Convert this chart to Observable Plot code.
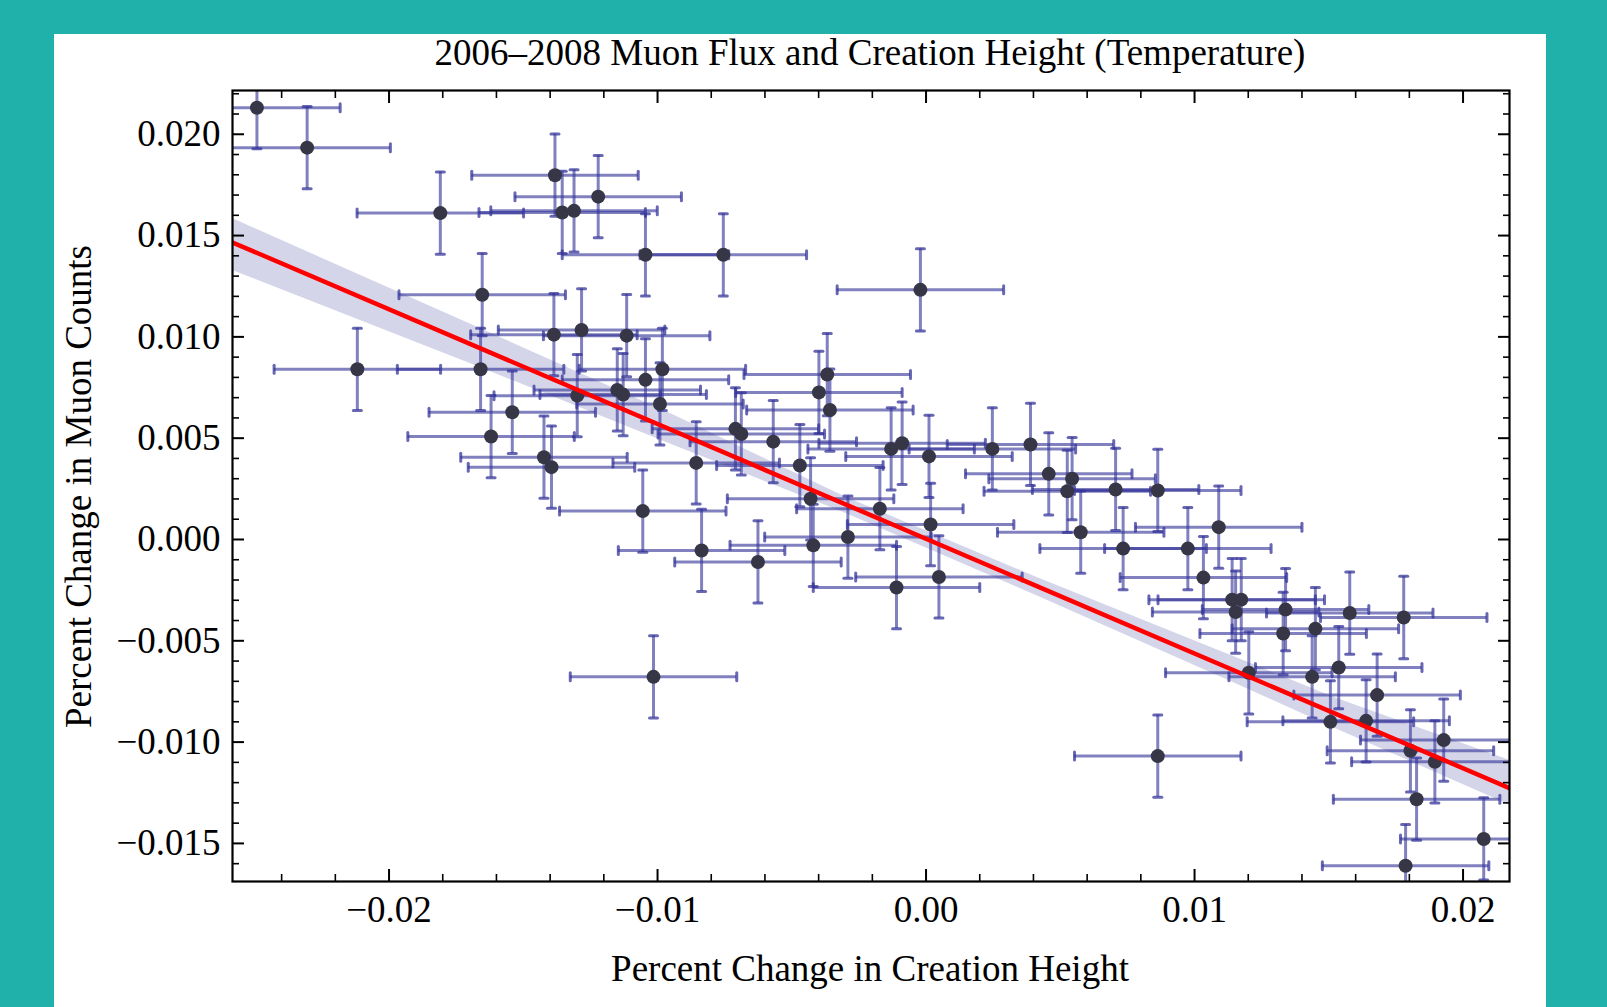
<!DOCTYPE html>
<html>
<head>
<meta charset="utf-8">
<script src="https://cdn.jsdelivr.net/npm/d3@7"></script>
<script src="https://cdn.jsdelivr.net/npm/@observablehq/plot@0.6"></script>
<style>
html, body { margin: 0; padding: 0; }
body { width: 1607px; height: 1007px; background: #20b2aa; position: relative; overflow: hidden;
  font-family: "Liberation Serif", "Times New Roman", serif; color: #000; }
#panel { position: absolute; left: 54px; top: 34px; width: 1492px; height: 973px; background: #fff; }
#title { position: absolute; left: 370px; width: 1000px; top: 34px; text-align: center; font-size: 37px; line-height: 37px; }
#chart { position: absolute; left: 0; top: 70px; }
#xlabel { position: absolute; left: 370px; width: 1000px; top: 950px; text-align: center; font-size: 37px; line-height: 37px; }
#ylabel { position: absolute; left: -272px; top: 468px; width: 700px; height: 37px; text-align: center; font-size: 37px; line-height: 37px; transform: rotate(-90deg); }
</style>
</head>
<body>
<div id="panel"></div>
<div id="title">2006–2008 Muon Flux and Creation Height (Temperature)</div>
<div id="chart"></div>
<div id="xlabel">Percent Change in Creation Height</div>
<div id="ylabel">Percent Change in Muon Counts</div>
<script>
// Measured points (percent change in creation height, percent change in muon counts)
const xValues = [-0.02492, -0.02305, -0.01809, -0.01382, -0.01355, -0.01311, -0.01221, -0.01045, -0.00755, -0.00021,
  -0.01653, -0.02118, -0.01659, -0.01386, -0.01283, -0.01115, -0.00982, -0.01045, -0.01150, -0.01128,
  -0.00991, -0.01299, -0.01541, -0.01620, -0.01423, -0.01395, -0.01055, -0.01015, -0.00368, -0.00399,
  -0.00358, -0.00710, -0.00688, -0.00569, -0.00856, -0.00470, -0.00430, -0.00836, -0.00626, -0.00420,
  -0.00291, -0.00172, -0.00130, -0.00089, 0.00011, 0.00017, -0.00110, 0.00048, 0.00247, 0.00389,
  0.00457, 0.00544, 0.00526, 0.00706, 0.00863, 0.00576, 0.00734, 0.01090, 0.00975, 0.01033,
  0.01140, 0.01174, 0.01153, 0.01339, 0.01330, 0.01450, 0.01578, 0.01779, 0.01202, 0.01537,
  0.01438, 0.01680, 0.01506, 0.01639, 0.01928, 0.01804, 0.01895, 0.01827, 0.02077, 0.01786, 0.00863];
const yValues = [0.02131, 0.01934, 0.01611, 0.01798, 0.01614, 0.01622, 0.01692, 0.01405, 0.01405, 0.01232,
  0.01208, 0.00840, 0.00840, 0.01011, 0.01034, 0.01006, 0.00840, 0.00788, 0.00738, 0.00715,
  0.00669, 0.00710, 0.00628, 0.00508, 0.00406, 0.00357, 0.00140, -0.00678, 0.00814, 0.00726,
  0.00639, 0.00546, 0.00521, 0.00483, 0.00378, 0.00365, 0.00201, -0.00054, -0.00111, -0.00029,
  0.00012, 0.00152, 0.00447, 0.00475, 0.00410, 0.00074, -0.00237, -0.00185, 0.00447, 0.00469,
  0.00324, 0.00300, 0.00238, 0.00247, 0.00242, 0.00036, -0.00045, 0.00061, -0.00045, -0.00188,
  -0.00297, -0.00297, -0.00358, -0.00346, -0.00464, -0.00440, -0.00363, -0.00385, -0.00658, -0.00632,
  -0.00678, -0.00768, -0.00900, -0.00895, -0.00990, -0.01043, -0.01097, -0.01282, -0.01478, -0.01610, -0.01069];
const xErr = 0.0031;
const yErr = 0.00203;

// Fit line and its band
const fitX = [-0.02583, 0.02173];
const fitY = [0.01466, -0.01227];
const bandX  = [-0.02583, -0.0166, -0.0095, -0.003, 0.004, 0.0115, 0.0152, 0.02173];
const bandHi = [0.01584, 0.01041, 0.0062, 0.0021, -0.0018, -0.0058, -0.0078, -0.0109];
const bandLo = [0.01328, 0.00849, 0.0047, 0.0013, -0.0027, -0.0071, -0.0093, -0.0131];

// Axes
const xDomain = [-0.02583, 0.02173];
const yDomain = [-0.01688, 0.02216];
const xMajor = [-0.02, -0.01, 0, 0.01, 0.02];
const xMinor = [-0.024, -0.022, -0.018, -0.016, -0.014, -0.012, -0.008, -0.006, -0.004, -0.002,
  0.002, 0.004, 0.006, 0.008, 0.012, 0.014, 0.016, 0.018];
const yMajor = [-0.015, -0.010, -0.005, 0, 0.005, 0.010, 0.015, 0.020];
const yMinor = [-0.016, -0.014, -0.013, -0.012, -0.011, -0.009, -0.008, -0.007, -0.006, -0.004, -0.003, -0.002, -0.001,
  0.001, 0.002, 0.003, 0.004, 0.006, 0.007, 0.008, 0.009, 0.011, 0.012, 0.013, 0.014, 0.016, 0.017, 0.018, 0.019, 0.021, 0.022];

const pts = xValues.map((x, i) => ({x, y: yValues[i]}));
const fit = fitX.map((x, i) => ({x, y: fitY[i]}));
const band = bandX.map((x, i) => ({x, lo: bandLo[i], hi: bandHi[i]}));

const barColor = "#34349a";
const capShape = {draw(context, l) { context.moveTo(0, -l / 2); context.lineTo(0, l / 2); }};
const barStyle = {stroke: barColor, strokeOpacity: 0.62, strokeWidth: 3, clip: true};
const capStyle = {length: 8, anchor: "start", shape: capShape, stroke: barColor, strokeOpacity: 0.75, strokeWidth: 3, clip: true};
const blank = () => "";

const chart = Plot.plot({
  width: 1607,
  height: 937,
  marginLeft: 232,
  marginRight: 98,
  marginTop: 20,
  marginBottom: 126,
  x: {domain: xDomain},
  y: {domain: yDomain},
  style: {background: "transparent", fontFamily: "'Liberation Serif', 'Times New Roman', serif", fontSize: "37px", color: "#000"},
  marks: [
    Plot.areaY(band, {x: "x", y1: "lo", y2: "hi", fill: "#d5d5ea", clip: true}),
    Plot.ruleY(pts, {y: "y", x1: d => d.x - xErr, x2: d => d.x + xErr, ...barStyle}),
    Plot.ruleX(pts, {x: "x", y1: d => d.y - yErr, y2: d => d.y + yErr, ...barStyle}),
    Plot.vector(pts, {x: d => d.x - xErr, y: "y", rotate: 0, ...capStyle}),
    Plot.vector(pts, {x: d => d.x + xErr, y: "y", rotate: 0, ...capStyle}),
    Plot.vector(pts, {x: "x", y: d => d.y - yErr, rotate: 90, ...capStyle}),
    Plot.vector(pts, {x: "x", y: d => d.y + yErr, rotate: 90, ...capStyle}),
    Plot.dot(pts, {x: "x", y: "y", r: 7, fill: "#363646", clip: true}),
    Plot.line(fit, {x: "x", y: "y", stroke: "#ff0000", strokeWidth: 4.5, clip: true}),
    Plot.axisX({anchor: "bottom", ticks: xMajor, tickSize: -12, tickPadding: 26, tickFormat: d3.format(".2f"), strokeWidth: 2, label: null}),
    Plot.axisX({anchor: "bottom", ticks: xMinor, tickSize: -7, tickFormat: blank, strokeWidth: 1.6, label: null}),
    Plot.axisX({anchor: "top", ticks: xMajor, tickSize: -12, tickFormat: blank, strokeWidth: 2, label: null}),
    Plot.axisX({anchor: "top", ticks: xMinor, tickSize: -7, tickFormat: blank, strokeWidth: 1.6, label: null}),
    Plot.axisY({anchor: "left", ticks: yMajor, tickSize: -12, tickPadding: 24, tickFormat: d3.format(".3f"), strokeWidth: 2, label: null}),
    Plot.axisY({anchor: "left", ticks: yMinor, tickSize: -7, tickFormat: blank, strokeWidth: 1.6, label: null}),
    Plot.axisY({anchor: "right", ticks: yMajor, tickSize: -12, tickFormat: blank, strokeWidth: 2, label: null}),
    Plot.axisY({anchor: "right", ticks: yMinor, tickSize: -7, tickFormat: blank, strokeWidth: 1.6, label: null}),
    Plot.frame({stroke: "#000", strokeWidth: 2.2})
  ]
});
document.getElementById("chart").appendChild(chart);
</script>
</body>
</html>
